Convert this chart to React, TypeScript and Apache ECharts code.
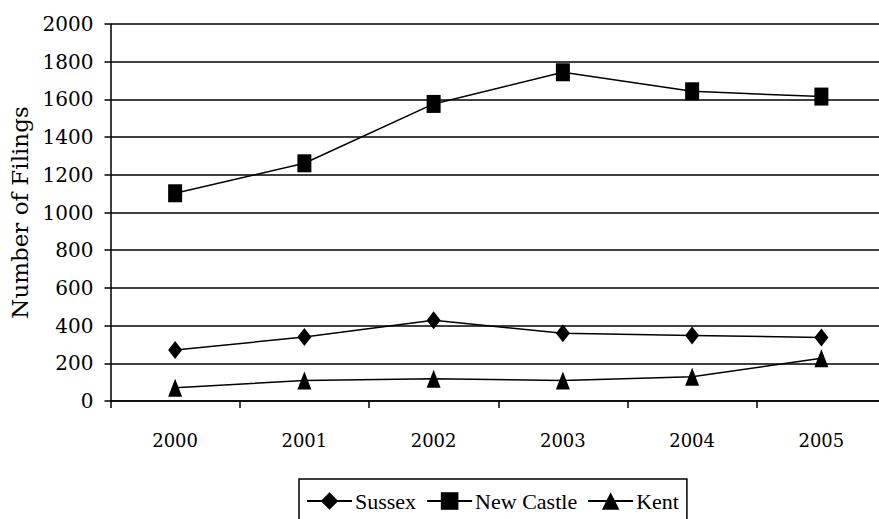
import React, { useEffect, useRef } from "react";
import * as echarts from "echarts";

// Annual filings by county
const years = ["2000", "2001", "2002", "2003", "2004", "2005"];
const sussex = [271, 339, 429, 359, 348, 337];
const newCastle = [1102, 1261, 1576, 1744, 1643, 1615];
const kent = [70, 109, 118, 109, 129, 227];

const axisFont = "DejaVu Serif";
const legendFont = "Liberation Serif";

export default function App() {
  const ref = useRef<HTMLDivElement>(null);

  useEffect(() => {
    if (!ref.current) return;
    const chart = echarts.init(ref.current, null, { renderer: "svg" });
    const lineStyle = { color: "#000", width: 1.5 };
    const itemStyle = { color: "#000", borderWidth: 0 };
    chart.setOption({
      animation: false,
      backgroundColor: "#fff",
      // the plot runs slightly past the right edge of the canvas
      grid: {
        left: 110.5,
        top: 24,
        width: 775.5,
        height: 377,
        containLabel: false,
        outerBoundsMode: "none",
      },
      legend: {
        left: 299,
        top: 479,
        orient: "horizontal",
        itemWidth: 45,
        itemHeight: 22,
        itemGap: 10,
        padding: [11, 8, 12, 7],
        borderColor: "#000",
        borderWidth: 1.5,
        borderRadius: 0,
        backgroundColor: "#fff",
        textStyle: { fontFamily: legendFont, fontSize: 22, color: "#000", padding: [0, 0, 0, -2] },
        data: ["Sussex", "New Castle", "Kent"],
      },
      xAxis: {
        type: "category",
        data: years,
        boundaryGap: true,
        axisLine: { lineStyle: { color: "#000", width: 1.5 } },
        axisTick: { show: true, length: 7, inside: false, alignWithLabel: false, lineStyle: { color: "#000", width: 1.5 } },
        axisLabel: { color: "#000", fontFamily: axisFont, fontSize: 18, margin: 30 },
        splitLine: { show: false },
      },
      yAxis: {
        type: "value",
        min: 0,
        max: 2000,
        interval: 200,
        name: "Number of Filings",
        nameLocation: "middle",
        nameRotate: 90,
        nameGap: 73,
        nameTextStyle: { color: "#000", fontFamily: axisFont, fontSize: 23 },
        axisLine: { show: true, lineStyle: { color: "#000", width: 1.5 } },
        axisTick: { show: true, length: 6, lineStyle: { color: "#000", width: 1.5 } },
        axisLabel: {
          color: "#000",
          fontFamily: axisFont,
          fontSize: 20,
          margin: 17,
          formatter: (v: number) => String(v),
        },
        splitLine: { show: true, lineStyle: { color: "#000", width: 1.5 } },
      },
      series: [
        {
          name: "Sussex",
          type: "line",
          data: sussex,
          symbol: "diamond",
          symbolSize: [14, 18],
          showAllSymbol: true,
          lineStyle,
          itemStyle,
        },
        {
          name: "New Castle",
          type: "line",
          data: newCastle,
          symbol: "rect",
          symbolSize: [14, 18],
          showAllSymbol: true,
          lineStyle,
          itemStyle,
        },
        {
          name: "Kent",
          type: "line",
          data: kent,
          symbol: "triangle",
          symbolSize: [14, 18],
          showAllSymbol: true,
          lineStyle,
          itemStyle,
        },
      ],
    });
    return () => chart.dispose();
  }, []);

  return (
    <div
      ref={ref}
      style={{ position: "fixed", left: 0, top: 0, width: 879, height: 519, background: "#fff" }}
    />
  );
}
